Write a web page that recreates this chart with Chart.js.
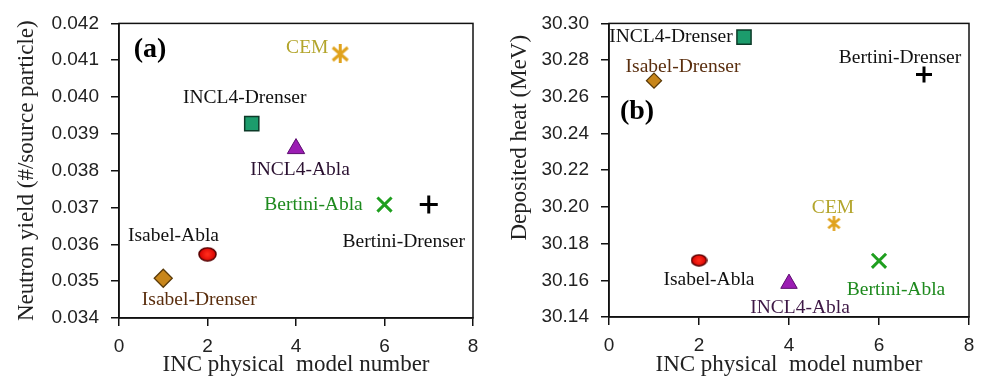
<!DOCTYPE html>
<html>
<head>
<meta charset="utf-8">
<script src="https://cdn.jsdelivr.net/npm/chart.js@4.4.1/dist/chart.umd.min.js"></script>
<style>
  html, body { margin: 0; padding: 0; background: #fff; }
  body { width: 986px; height: 382px; position: relative; overflow: hidden; }
  .panel { position: absolute; top: 0; height: 382px; }
  #panelA { left: 0; width: 490px; }
  #panelB { left: 490px; width: 496px; }
</style>
</head>
<body>
<div class="panel" id="panelA"><canvas id="chartA" width="490" height="382"></canvas></div>
<div class="panel" id="panelB"><canvas id="chartB" width="496" height="382"></canvas></div>
<script>
// INC / de-excitation model combinations and their model numbers
const models = ['Isabel-Drenser', 'Isabel-Abla', 'INCL4-Drenser', 'INCL4-Abla', 'CEM', 'Bertini-Abla', 'Bertini-Drenser'];
const modelNumbers = [1, 2, 3, 4, 5, 6, 7];

// (a) neutron yield per source particle
const neutronYield = [0.03508, 0.03573, 0.03928, 0.0386, 0.04117, 0.03708, 0.03708];
// (b) deposited heat in MeV
const depositedHeat = [30.2688, 30.1709, 30.2925, 30.1582, 30.1910, 30.1706, 30.2722];

// axis ranges and tick steps
const xRange = [0, 8];
const xStep = 2;
const yieldRange = [0.034, 0.042];
const yieldStep = 0.001;
const heatRange = [30.14, 30.30];
const heatStep = 0.02;

const SERIF = '"Liberation Serif", "Times New Roman", serif';
const SANS = '"Liberation Sans", Arial, sans-serif';

// ---- custom marker images ----
function asterisk(size, color, lw) {
  const c = document.createElement('canvas');
  c.width = size; c.height = size;
  const g = c.getContext('2d');
  g.strokeStyle = color; g.lineWidth = lw; g.lineCap = 'butt';
  const m = lw / 2 + 0.5, s = size;
  g.beginPath();
  g.moveTo(m, m + 1); g.lineTo(s - m, s - m - 1);
  g.moveTo(s - m, m + 1); g.lineTo(m, s - m - 1);
  g.moveTo(s / 2, 0); g.lineTo(s / 2, s);
  g.stroke();
  return c;
}
function ellipseDot(w, h, fill, stroke) {
  const c = document.createElement('canvas');
  c.width = w + 2; c.height = h + 2;
  const g = c.getContext('2d');
  const grad = g.createRadialGradient(w / 2 + 1, h / 2 + 1, 1, w / 2 + 1, h / 2 + 1, w / 2);
  grad.addColorStop(0, '#ff2a1a');
  grad.addColorStop(1, fill);
  g.fillStyle = grad;
  g.strokeStyle = stroke; g.lineWidth = 1.6;
  g.beginPath();
  g.ellipse(w / 2 + 1, h / 2 + 1, w / 2, h / 2, 0, 0, Math.PI * 2);
  g.fill(); g.stroke();
  return c;
}

// marker look for each model, per panel
function markerStyles(panel) {
  const big = panel === 'a';
  return {
    'Isabel-Drenser':  { pointStyle: 'rectRot', radius: big ? 9 : 7.5, bg: '#c8861a', border: '#5a3a08', bw: 1.3 },
    'Isabel-Abla':     { pointStyle: big ? ellipseDot(17, 13, '#d40000', '#5a0000') : ellipseDot(15, 11, '#d40000', '#5a0000'), radius: 8, bg: '#d40000', border: '#5a0000', bw: 1.5 },
    'INCL4-Drenser':   { pointStyle: 'rect', radius: 10, bg: '#1c9c6c', border: '#0c3a28', bw: 1.5 },
    'INCL4-Abla':      { pointStyle: 'triangle', radius: big ? 10 : 9.5, bg: '#9b1db3', border: '#5c0c70', bw: 1 },
    'CEM':             { pointStyle: big ? asterisk(19, '#e0a21c', 3) : asterisk(15, '#e0a21c', 2.6), radius: 9, bg: '#e0a21c', border: '#e0a21c', bw: 3 },
    'Bertini-Abla':    { pointStyle: 'crossRot', radius: 10, bg: '#1f9f1f', border: '#1f9f1f', bw: 3 },
    'Bertini-Drenser': { pointStyle: 'cross', radius: big ? 9 : 8, bg: '#000', border: '#000', bw: 3 }
  };
}

// label placement (offset of the text centre from its marker) and colour
const labelLayoutA = {
  'Isabel-Drenser':  { dx: 36,  dy: 22,  color: '#5a2e0e' },
  'Isabel-Abla':     { dx: -34, dy: -18, color: '#111' },
  'INCL4-Drenser':   { dx: -7,  dy: -26, color: '#111' },
  'INCL4-Abla':      { dx: 4,   dy: 21,  color: '#2a1030' },
  'CEM':             { dx: -33, dy: -6,  color: '#b3a52c' },
  'Bertini-Abla':    { dx: -71, dy: 0,   color: '#1e8a1e' },
  'Bertini-Drenser': { dx: -25, dy: 37,  color: '#111' }
};
const labelLayoutB = {
  'Isabel-Drenser':  { dx: 29,  dy: -14, color: '#5a2e0e' },
  'Isabel-Abla':     { dx: 10,  dy: 20,  color: '#111' },
  'INCL4-Drenser':   { dx: -73, dy: 0,   color: '#111' },
  'INCL4-Abla':      { dx: 11,  dy: 24,  color: '#3e1846' },
  'CEM':             { dx: -1,  dy: -16, color: '#b3a52c' },
  'Bertini-Abla':    { dx: 17,  dy: 29,  color: '#1e8a1e' },
  'Bertini-Drenser': { dx: -24, dy: -17, color: '#111' }
};

// frame around the plot area plus the model names and panel tag
const annotate = {
  id: 'annotate',
  beforeDatasetsDraw(chart) {
    const { ctx, chartArea: a } = chart;
    ctx.save();
    ctx.strokeStyle = '#111';
    ctx.lineWidth = 1.5;
    ctx.strokeRect(a.left, a.top, a.right - a.left, a.bottom - a.top);
    ctx.restore();
  },
  afterDatasetsDraw(chart, args, opts) {
    const { ctx, chartArea: a } = chart;
    ctx.save();
    ctx.textAlign = 'center';
    ctx.textBaseline = 'middle';
    ctx.font = '19.5px ' + SERIF;
    chart.data.datasets.forEach((ds, i) => {
      const pt = chart.getDatasetMeta(i).data[0];
      const lay = opts.layout[ds.label];
      ctx.fillStyle = lay.color;
      ctx.fillText(ds.label, pt.x + lay.dx, pt.y + lay.dy);
    });
    ctx.font = 'bold 28px ' + SERIF;
    ctx.fillStyle = '#000';
    ctx.fillText(opts.tag, a.left + opts.tagDx, a.top + opts.tagDy);
    ctx.restore();
  }
};

function buildChart(canvasId, panel, values, range, step, decimals, yTitle, yTitleAlign, pad, xHeight, yTitlePad, layout, tag, tagDx, tagDy) {
  const styles = markerStyles(panel);
  const datasets = models.map((name, i) => {
    const s = styles[name];
    return {
      label: name,
      data: [{ x: modelNumbers[i], y: values[i] }],
      pointStyle: s.pointStyle,
      pointRadius: s.radius,
      pointBackgroundColor: s.bg,
      pointBorderColor: s.border,
      pointBorderWidth: s.bw,
      showLine: false
    };
  });
  const tickFont = { family: SANS, size: 19 };
  const titleFont = { family: SERIF, size: 23 };
  return new Chart(document.getElementById(canvasId), {
    type: 'scatter',
    data: { datasets },
    plugins: [annotate],
    options: {
      responsive: false,
      animation: false,
      events: [],
      layout: { padding: pad },
      plugins: {
        legend: { display: false },
        tooltip: { enabled: false },
        annotate: { layout, tag, tagDx, tagDy }
      },
      scales: {
        x: {
          type: 'linear',
          min: xRange[0], max: xRange[1],
          ticks: { stepSize: xStep, font: tickFont, color: '#222', padding: 9 },
          grid: { drawOnChartArea: false, drawTicks: true, tickLength: 8, color: '#111', lineWidth: 1.5 },
          border: { display: true, color: '#111', width: 1.5 },
          title: { display: true, text: 'INC physical  model number', font: titleFont, color: '#222', padding: { top: 0, bottom: 3 } },
          afterFit(scale) { scale.height = xHeight; }
        },
        y: {
          type: 'linear',
          min: range[0], max: range[1],
          ticks: { stepSize: step, font: tickFont, color: '#222', padding: 12,
                   callback: v => Number(v).toFixed(decimals) },
          grid: { drawOnChartArea: false, drawTicks: true, tickLength: 8, color: '#111', lineWidth: 1.5 },
          border: { display: true, color: '#111', width: 1.5 },
          title: { display: true, text: yTitle, align: yTitleAlign, font: titleFont, color: '#222', padding: { top: yTitlePad, bottom: 0 } },
          afterFit(scale) { scale.width = 119; }
        }
      }
    }
  });
}

buildChart('chartA', 'a', neutronYield, yieldRange, yieldStep, 3,
  'Neutron yield (#/source particle)', 'center',
  { left: 0, right: 17, top: 17, bottom: 0 }, 64, 13, labelLayoutA, '(a)', 31, 26);

buildChart('chartB', 'b', depositedHeat, heatRange, heatStep, 2,
  'Deposited heat (MeV)  ', 'end',
  { left: 0, right: 17, top: 20, bottom: 0 }, 65, 16, labelLayoutB, '(b)', 28, 88);
</script>
</body>
</html>
